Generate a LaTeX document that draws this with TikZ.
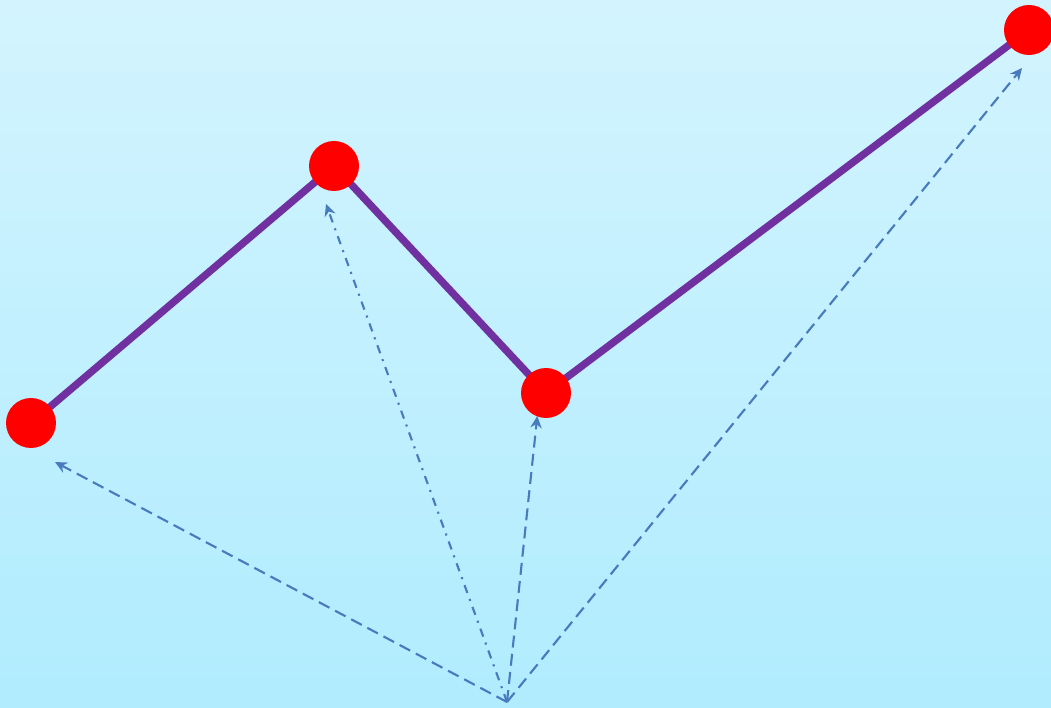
\documentclass[tikz,border=0pt]{standalone}
\usepackage{xcolor}
\usepackage{tikz}
\usetikzlibrary{arrows.meta,positioning,calc}
\definecolor{skytop}{RGB}{211,244,254}
\definecolor{skybottom}{RGB}{176,236,254}
\definecolor{pathpurple}{RGB}{112,48,160}
\definecolor{rayblue}{RGB}{72,122,190}
\pgfdeclarelayer{back}
\pgfsetlayers{back,main}

\begin{document}
\begin{tikzpicture}[
    dot/.style={circle, fill=red, draw=none, inner sep=0pt, outer sep=0pt, minimum size=0.5cm},
    route/.style={line width=2.1pt, color=pathpurple, line join=round},
    ray/.style={-{Stealth[length=3.4pt, width=3.2pt]}, line width=0.6pt, color=rayblue,
                dash pattern=on 3.4pt off 1.8pt},
    dotray/.style={ray, dash pattern=on 2.4pt off 1.8pt on 0.6pt off 1.8pt}
]

\useasboundingbox (0,0) rectangle (10.51,7.07);

% Points
\coordinate (o) at (5.07,0.05);
\node[dot] (p1) at (0.31,2.84) {};
\node[dot] (p2) at (3.34,5.41) {};
\node[dot] (p3) at (5.46,3.14) {};
\node[dot] (p4) at (10.29,6.77) {};

% Arrow targets
\coordinate (t1) at (0.55,2.45);
\coordinate (t2) at (3.26,5.03);
\coordinate (t3) at (5.373,2.91);
\coordinate (t4) at (10.22,6.39);

% Background and polyline behind the dots
\begin{pgfonlayer}{back}
  \shade[top color=skytop, bottom color=skybottom] (0,0) rectangle (10.51,7.07);
  \draw[route] (p1.center) -- (p2.center) -- (p3.center) -- (p4.center);
\end{pgfonlayer}

% Vectors
\draw[ray]    (o) -- (t1);
\draw[dotray] (o) -- (t2);
\draw[ray]    (o) -- (t3);
\draw[ray]    (o) -- (t4);

\end{tikzpicture}
\end{document}
